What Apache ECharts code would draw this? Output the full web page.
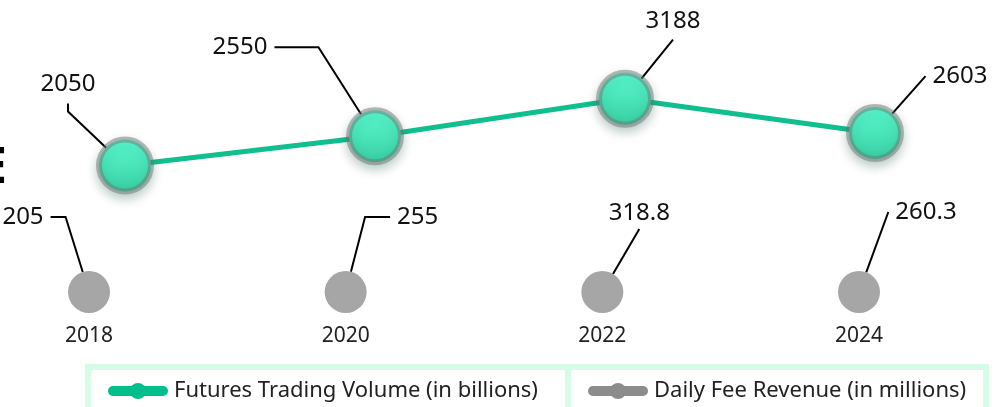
<!DOCTYPE html>
<html>
<head>
<meta charset="utf-8">
<style>
  html, body { margin: 0; padding: 0; background: #fff; }
  #main { width: 1000px; height: 407px; }
</style>
<script src="https://cdn.jsdelivr.net/npm/echarts@6/dist/echarts.min.js"></script>
</head>
<body>
<div id="main"></div>
<script>
var years = ['2018', '2020', '2022', '2024'];
var volumeValues = [2050, 2550, 3188, 2603];
var feeValues = [205, 255, 318.8, 260.3];
var seriesNames = ['Futures Trading Volume (in billions)', 'Daily Fee Revenue (in millions)'];

// label offsets from each point (px) and leader line knee length
var volumeLabelOffset = [[-57, -81], [-135, -89], [48, -78], [85, -57]];
var volumeKnee = [8, 44, 0, 0];
var feeLabelOffset = [[-66, -75], [72, -75], [37, -79], [67, -80]];
var feeKnee = [15, 25, 0, 0];

var FONT = '"Noto Sans", "Open Sans", sans-serif';

var chart = echarts.init(document.getElementById('main'));

var volumeData = volumeValues.map(function (v, i) {
    return { value: v, labelLine: { length2: volumeKnee[i] } };
});
var feeData = feeValues.map(function (v, i) {
    return { value: [years[i], 'fee', v], labelLine: { length2: feeKnee[i] } };
});

function legendBox(name, left, color, padRight) {
    return {
        left: left,
        top: 367,
        orient: 'horizontal',
        padding: [13, padRight, 30, 20],
        backgroundColor: '#fff',
        borderColor: '#d6fbe7',
        borderWidth: 6,
        itemWidth: 50,
        itemHeight: 20,
        selectedMode: false,
        textStyle: { fontSize: 22, color: '#222', fontFamily: FONT, padding: [0, 0, 0, 6] },
        data: [{
            name: name,
            itemStyle: { color: color, borderWidth: 0, opacity: 1, shadowBlur: 0 },
            lineStyle: { color: color, width: 10, cap: 'round', opacity: 1 }
        }]
    };
}

function labelStyle(pad, formatter) {
    var s = {
        show: true,
        position: 'inside',
        fontSize: 24,
        color: '#111',
        fontFamily: FONT,
        padding: pad,
        backgroundColor: 'transparent'
    };
    if (formatter) {
        s.formatter = formatter;
    }
    return s;
}

var option = {
    animation: false,
    title: {
        text: 'VOLUME',
        right: 993,
        top: 144,
        padding: 0,
        textStyle: { fontSize: 50, fontWeight: 'bold', color: '#000', fontFamily: FONT }
    },
    legend: [
        legendBox(seriesNames[0], 88, '#00bf8b', 60),
        legendBox(seriesNames[1], 568, '#8c8c8c', 20)
    ],
    grid: [
        { left: 0, right: 0, top: 51, height: 235 },
        { left: 89, width: 770, top: 272, height: 40 }
    ],
    xAxis: [
        { type: 'category', gridIndex: 0, data: years, show: false },
        {
            type: 'category', gridIndex: 1, data: years, boundaryGap: false,
            axisLine: { show: false }, axisTick: { show: false }, splitLine: { show: false },
            axisLabel: { fontSize: 21, color: '#222', margin: 14, fontFamily: FONT }
        }
    ],
    yAxis: [
        { type: 'value', gridIndex: 0, min: 0, max: 4000, show: false },
        { type: 'category', gridIndex: 1, data: ['fee'], show: false }
    ],
    series: [
        {
            name: seriesNames[0],
            type: 'line',
            xAxisIndex: 0,
            yAxisIndex: 0,
            data: volumeData,
            symbol: 'circle',
            symbolSize: 52,
            z: 3,
            lineStyle: { color: '#10bf8e', width: 5 },
            itemStyle: {
                color: new echarts.graphic.LinearGradient(0, 0, 0, 1, [
                    { offset: 0, color: '#5effd6' },
                    { offset: 1, color: '#36cc9f' }
                ]),
                borderColor: 'rgba(110,120,117,0.5)',
                borderWidth: 6,
                shadowBlur: 12,
                shadowOffsetY: 5,
                shadowColor: 'rgba(0,70,50,0.3)'
            },
            label: labelStyle(7),
            labelLine: { show: true, lineStyle: { color: '#000', width: 2 } },
            labelLayout: function (p) {
                var o = volumeLabelOffset[p.dataIndex];
                return { dx: o[0], dy: o[1] };
            }
        },
        {
            name: seriesNames[1],
            type: 'line',
            xAxisIndex: 1,
            yAxisIndex: 1,
            data: feeData,
            symbol: 'circle',
            symbolSize: 42,
            lineStyle: { width: 0, opacity: 0 },
            itemStyle: { color: '#a6a6a6' },
            label: labelStyle([4, 7], function (p) { return p.value[2]; }),
            labelLine: { show: true, lineStyle: { color: '#000', width: 2 } },
            labelLayout: function (p) {
                var o = feeLabelOffset[p.dataIndex];
                return { dx: o[0], dy: o[1] };
            }
        }
    ]
};

chart.setOption(option);
window.addEventListener('resize', function () {
    chart.resize();
});
</script>
</body>
</html>
